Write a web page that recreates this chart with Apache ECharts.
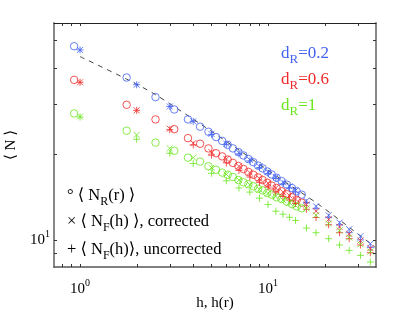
<!DOCTYPE html>
<html><head><meta charset="utf-8">
<script src="https://cdn.jsdelivr.net/npm/echarts@6/dist/echarts.min.js"></script>
<style>html,body{margin:0;padding:0;background:#fff}#c{width:415px;height:313px}</style>
</head><body><div id="c"></div>
<script>
// ---- data ----
const hValues = [1,2,3,4,5,6,7,8,9,10,11,12,13,14,16,18,21,24,27,31,35];
const rValues = [0.93,1.77,2.52,3.17,3.75,4.35,4.82,5.29,5.7,6.1,6.5,6.95,7.4,7.85,8.35,8.85,9.35,9.9,10.45,11.1,11.8,12.6,13.4,14.2,15.1];

const circ02 = [47.6,37.0,31.6,28.6,26.4,24.9,23.9,22.9,22.2,21.5,20.9,20.3,19.75,19.2,18.7,18.2,17.8,17.35,16.95,16.5,16.06,15.6,15.18,14.8,14.4];
const circ06 = [36.3,29.7,26.4,24.4,22.7,21.7,20.9,20.1,19.6,19.1,18.6,18.15,17.7,17.3,16.9,16.55,16.2,15.85,15.5,15.2,14.8,14.45,14.1,13.8,13.5];
const circ10 = [27.7,24.1,21.9,20.5,19.4,18.8,18.1,17.6,17.2,16.9,16.6,16.2,15.9,15.65,15.4,15.1,14.9,14.6,14.4,14.1,13.9,13.6,13.35,13.1,12.9];

const corr02 = [46.2,34.9,29.3,26.0,23.5,21.7,20.2,19.06,18.1,17.3,16.6,15.9,15.4,14.9,13.7,13.1,12.2,11.5,10.9,10.3,9.7];
const unc02  = [46.2,34.9,29.3,26.0,23.4,21.6,20.0,18.9,17.9,17.1,16.4,15.7,15.2,14.7,13.5,12.9,12.0,11.3,10.6,10.0,9.4];
const corr06 = [35.6,28.4,24.5,21.8,20.3,19.2,18.1,17.2,16.4,15.8,15.2,14.7,14.3,13.9,13.3,12.6,11.8,11.1,10.5,9.95,9.36];
const unc06  = [35.6,28.4,24.3,21.5,19.8,18.6,17.5,16.6,15.9,15.3,14.7,14.2,13.8,13.4,12.8,11.98,11.3,10.6,10.1,9.6,9.02];
const corr10 = [27.0,23.3,20.9,19.4,17.9,16.96,16.2,15.6,15.0,14.55,14.2,13.8,13.5,13.2,12.9,12.2,11.4,10.8,10.2,9.65,9.1];
const unc10  = [26.9,22.5,20.1,18.5,17.1,16.1,15.2,14.7,14.0,13.3,12.6,12.3,12.0,11.7,11.0,10.6,10.1,9.6,9.19,8.83,8.37];

const fitX = [1,1.772,2.506,4.348,7.10,11.58,18.9,37.1];
const fitY = [43.8,36.5,32.3,25.5,20.5,16.4,13.2,9.43];

const xTickValues = [0.8,0.9,1,2,3,4,5,6,7,8,9,10,20,30];
const yTickValues = [9,10,20,30,40,50];
const xRange = [0.727, 37.5];
const yRange = [8.04, 57.4];

// ---- styles ----
const BLUE = '#4262f0', RED = '#f02a2a', GREEN = '#6ae61e';
const SERIF = '"Liberation Serif","DejaVu Serif",serif';
const XSYM = 'path://M0,0L10,10M10,0L0,10';
const PSYM = 'path://M5,0L5,10M0,5L10,5';

const zip = (xs, ys) => xs.map((x, i) => [x, ys[i]]);

function circles(name, ys, c) {
  return {name, type:'scatter', data: zip(rValues, ys), symbol:'circle', symbolSize:7.5,
    itemStyle:{color:'none', borderColor:c, borderWidth:1}, z:3};
}
function marks(name, ys, c, sym, size) {
  return {name, type:'scatter', data: zip(hValues, ys), symbol:sym, symbolSize:size,
    itemStyle:{color:'none', borderColor:c, borderWidth:1}, z:4};
}

const tickLabel = v => {
  const e = Math.log10(v), r = Math.round(e);
  return Math.abs(e - r) < 1e-6 ? '{b|10}{s|' + r + '}' : '';
};
const tickRich = {
  b:{fontSize:15, fontFamily:SERIF, color:'#000'},
  s:{fontSize:10, fontFamily:SERIF, color:'#000', padding:[0,0,12,0]}
};

function tickSeries(data, vertical) {
  return {type:'custom', silent:true, z:5, clip:false, data,
    renderItem(params, api) {
      const st = {stroke:'#333', lineWidth:1};
      if (vertical) {
        const v = api.value(0);
        const a = api.coord([v, yRange[0]]), b = api.coord([v, yRange[1]]);
        const x = Math.round(a[0]) + 0.5;
        return {type:'group', children:[
          {type:'line', shape:{x1:x, y1:a[1], x2:x, y2:a[1]-3}, style:st},
          {type:'line', shape:{x1:x, y1:b[1], x2:x, y2:b[1]+3}, style:st}]};
      } else {
        const v = api.value(1);
        const a = api.coord([xRange[0], v]), b = api.coord([xRange[1], v]);
        const y = Math.round(a[1]) + 0.5;
        return {type:'group', children:[
          {type:'line', shape:{x1:a[0], y1:y, x2:a[0]+3, y2:y}, style:st},
          {type:'line', shape:{x1:b[0], y1:y, x2:b[0]-3, y2:y}, style:st}]};
      }
    }};
}

const sub = {fontSize:12, fontFamily:SERIF, padding:[13,0,0,0]};
const chart = echarts.init(document.getElementById('c'), null, {renderer:'canvas'});
chart.setOption({
  animation:false,
  backgroundColor:'#fff',
  grid:{left:54, right:39, top:23, bottom:46, containLabel:false, outerBoundsMode:'none'},
  xAxis:[
    {type:'log', logBase:10, min:xRange[0], max:xRange[1], position:'bottom',
     name:'h, h(r)', nameLocation:'middle', nameGap:29, nameMoveOverlap:false,
     nameTextStyle:{fontFamily:SERIF, fontSize:15, color:'#000'},
     axisLine:{lineStyle:{color:'#555', width:1.5}}, axisTick:{show:false},
     splitLine:{show:false}, minorTick:{show:false},
     axisLabel:{formatter:tickLabel, rich:tickRich, margin:11, showMinLabel:false, showMaxLabel:false}},
    {type:'log', logBase:10, min:xRange[0], max:xRange[1], position:'top',
     axisLine:{lineStyle:{color:'#222', width:1}}, axisTick:{show:false},
     axisLabel:{show:false}, splitLine:{show:false}}
  ],
  yAxis:[
    {type:'log', logBase:10, min:yRange[0], max:yRange[1], position:'left',
     name:'⟨ N ⟩', nameLocation:'middle', nameGap:35, nameRotate:90, nameMoveOverlap:false,
     nameTextStyle:{fontFamily:SERIF, fontSize:15, color:'#000'},
     axisLine:{lineStyle:{color:'#888', width:2}}, axisTick:{show:false},
     splitLine:{show:false},
     axisLabel:{formatter:tickLabel, rich:tickRich, margin:4, showMinLabel:false, showMaxLabel:false}},
    {type:'log', logBase:10, min:yRange[0], max:yRange[1], position:'right',
     axisLine:{lineStyle:{color:'#888', width:2}}, axisTick:{show:false},
     axisLabel:{show:false}, splitLine:{show:false}}
  ],
  series:[
    {type:'line', data: zip(fitX, fitY), smooth:0.3, showSymbol:false, symbol:'none',
     lineStyle:{color:'#444', width:1, type:[5,5]}, z:2},
    circles('c02', circ02, BLUE), circles('c06', circ06, RED), circles('c10', circ10, GREEN),
    marks('x02', corr02, BLUE, XSYM, 6), marks('p02', unc02, BLUE, PSYM, 7),
    marks('x06', corr06, RED, XSYM, 6), marks('p06', unc06, RED, PSYM, 7),
    marks('x10', corr10, GREEN, XSYM, 6), marks('p10', unc10, GREEN, PSYM, 7),
    tickSeries(xTickValues.map(v => [v, yRange[0]]), true),
    tickSeries(yTickValues.map(v => [xRange[0], v]), false)
  ],
  graphic:[
    {type:'text', left:281, top:45, style:{text:'d{s|R}=0.2', fill:BLUE, font:'17px '+SERIF,
      rich:{s:Object.assign({}, sub, {fill:BLUE, fontSize:13})}}},
    {type:'text', left:281, top:71, style:{text:'d{s|R}=0.6', fill:RED, font:'17px '+SERIF,
      rich:{s:Object.assign({}, sub, {fill:RED, fontSize:13})}}},
    {type:'text', left:281, top:97, style:{text:'d{s|R}=1', fill:GREEN, font:'17px '+SERIF,
      rich:{s:Object.assign({}, sub, {fill:GREEN, fontSize:13})}}},
    {type:'text', left:67, top:187, style:{text:'° ⟨ N{s|R}(r) ⟩', fill:'#000', font:'16.5px '+SERIF,
      rich:{s:Object.assign({}, sub, {fill:'#000'})}}},
    {type:'text', left:67, top:213, style:{text:'× ⟨ N{s|F}(h) ⟩, corrected', fill:'#000', font:'16.5px '+SERIF,
      rich:{s:Object.assign({}, sub, {fill:'#000'})}}},
    {type:'text', left:67, top:241, style:{text:'+ ⟨ N{s|F}(h)⟩, uncorrected', fill:'#000', font:'16.5px '+SERIF,
      rich:{s:Object.assign({}, sub, {fill:'#000'})}}}
  ]
});
</script></body></html>
